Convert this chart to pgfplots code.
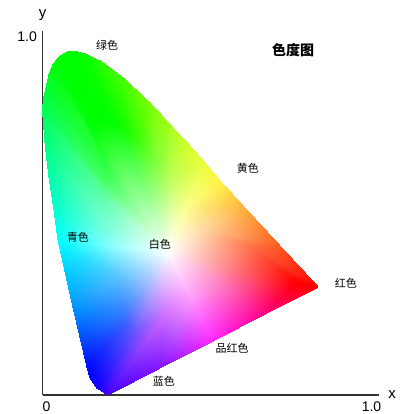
\documentclass[border=0pt]{standalone}
\usepackage{fontspec}
\usepackage{pgfplots}
\pgfplotsset{compat=1.18}
\setmainfont{Liberation Sans}
\newfontfamily\cjk{Noto Sans CJK SC}

\begin{document}
\begin{tikzpicture}[x=1pt,y=1pt]
\useasboundingbox (0,0) rectangle (405,414);
\begin{axis}[
  at={(42.5pt,19pt)},
  anchor=south west,
  scale only axis,
  width=336.5pt,
  height=364pt,
  xmin=0, xmax=1.0354,
  ymin=0, ymax=1.0139,
  axis x line=bottom,
  axis y line=left,
  axis line style={-, draw=black!80, line width=1.3pt},
  clip=false,
  xtick={0,1},
  xticklabels={0,1.0},
  ytick={1},
  yticklabels={1.0},
  tick style={draw=none},
  /pgf/number format/assume math mode=true,
  tick label style={font=\fontsize{14}{14}\selectfont},
  x tick label style={inner sep=0pt,xshift=4pt,yshift=-4pt},
  y tick label style={yshift=-1pt},
  xlabel={x},
  ylabel={y},
  every axis x label/.style={at={(axis cs:1.0754,0)},anchor=center,font=\fontsize{15}{15}\selectfont},
  every axis y label/.style={at={(axis cs:0,1.0585)},anchor=center,font=\fontsize{15}{15}\selectfont},
]
% triangles: white point 0, boundary 1-25, inner ring 26-50, extra boundary points 51-59
\addplot[patch, shader=interp, mesh/color input=explicit, table/row sep=\\, patch table={
0 26 27\\ 26 1 2\\ 26 2 27\\
0 27 28\\ 27 2 3\\ 27 3 28\\
0 28 29\\ 28 3 4\\ 28 4 29\\
0 29 30\\ 29 4 5\\ 29 5 30\\
0 30 31\\ 30 5 6\\ 30 6 31\\
0 31 32\\ 31 6 7\\ 31 7 32\\
0 32 33\\ 32 7 51\\ 32 51 8\\ 32 8 33\\
0 33 34\\ 33 8 9\\ 33 9 34\\
0 34 35\\ 34 9 52\\ 34 52 10\\ 34 10 35\\
0 35 36\\ 35 10 53\\ 35 53 11\\ 35 11 36\\
0 36 37\\ 36 11 12\\ 36 12 37\\
0 37 38\\ 37 12 13\\ 37 13 38\\
0 38 39\\ 38 13 54\\ 38 54 14\\ 38 14 39\\
0 39 40\\ 39 14 15\\ 39 15 40\\
0 40 41\\ 40 15 55\\ 40 55 16\\ 40 16 41\\
0 41 42\\ 41 16 56\\ 41 56 17\\ 41 17 42\\
0 42 43\\ 42 17 57\\ 42 57 18\\ 42 18 43\\
0 43 44\\ 43 18 58\\ 43 58 19\\ 43 19 44\\
0 44 45\\ 44 19 59\\ 44 59 20\\ 44 20 45\\
0 45 46\\ 45 20 21\\ 45 21 46\\
0 46 47\\ 46 21 22\\ 46 22 47\\
0 47 48\\ 47 22 23\\ 47 23 48\\
0 48 49\\ 48 23 24\\ 48 24 49\\
0 49 50\\ 49 24 25\\ 49 25 50\\
0 50 26\\ 50 25 1\\ 50 1 26\\
}]
  table[x=x, y=y, meta=c] {
x y c\\
0.3862 0.3983 rgb255=255,255,255\\
0.2015 0.0000 rgb255=70,0,255\\
0.1677 0.0195 rgb255=20,0,255\\
0.1462 0.0474 rgb255=0,0,255\\
0.1369 0.0780 rgb255=0,10,255\\
0.0938 0.2451 rgb255=0,150,255\\
0.0477 0.4318 rgb255=0,255,255\\
0.0354 0.5153 rgb255=0,255,210\\
0.0077 0.7019 rgb255=0,255,130\\
0.0000 0.7939 rgb255=0,255,90\\
0.0108 0.8552 rgb255=0,255,50\\
0.0323 0.9192 rgb255=0,255,10\\
0.0508 0.9415 rgb255=0,255,0\\
0.0754 0.9554 rgb255=0,255,0\\
0.1308 0.9499 rgb255=10,255,0\\
0.1769 0.9304 rgb255=40,255,0\\
0.2477 0.8830 rgb255=70,255,0\\
0.3308 0.8134 rgb255=120,255,0\\
0.4015 0.7437 rgb255=170,255,30\\
0.5000 0.6462 rgb255=235,255,60\\
0.6169 0.5265 rgb255=255,180,60\\
0.7308 0.4150 rgb255=255,90,30\\
0.8477 0.3008 rgb255=255,0,0\\
0.6846 0.2256 rgb255=255,0,130\\
0.5246 0.1504 rgb255=255,40,255\\
0.3615 0.0752 rgb255=130,20,255\\
0.2846 0.1783 rgb255=105,85,255\\
0.2662 0.1894 rgb255=80,90,255\\
0.2538 0.2061 rgb255=60,100,255\\
0.2492 0.2228 rgb255=50,120,255\\
0.2400 0.3217 rgb255=90,190,255\\
0.2169 0.4150 rgb255=140,255,255\\
0.2108 0.4568 rgb255=130,255,225\\
0.1969 0.5501 rgb255=100,255,170\\
0.1923 0.5961 rgb255=70,255,100\\
0.1985 0.6267 rgb255=50,255,70\\
0.1554 0.7382 rgb255=0,255,10\\
0.1677 0.7521 rgb255=0,255,0\\
0.1831 0.7604 rgb255=0,255,0\\
0.2200 0.7577 rgb255=0,255,0\\
0.2508 0.7437 rgb255=15,255,0\\
0.2969 0.7131 rgb255=60,255,10\\
0.3523 0.6462 rgb255=130,255,60\\
0.3954 0.6045 rgb255=190,255,90\\
0.4431 0.5223 rgb255=250,255,140\\
0.5015 0.4624 rgb255=255,215,160\\
0.6446 0.4109 rgb255=255,110,70\\
0.7785 0.3148 rgb255=255,0,0\\
0.5646 0.2953 rgb255=255,110,190\\
0.4554 0.2744 rgb255=255,160,255\\
0.3726 0.2201 rgb255=205,110,255\\
0.0200 0.6072 rgb255=0,255,170\\
0.0031 0.8273 rgb255=0,255,70\\
0.0200 0.8914 rgb255=0,255,30\\
0.1000 0.9568 rgb255=0,255,0\\
0.2108 0.9081 rgb255=55,255,0\\
0.2877 0.8496 rgb255=95,255,0\\
0.3662 0.7786 rgb255=145,255,10\\
0.4508 0.6964 rgb255=210,255,40\\
0.5523 0.5905 rgb255=255,240,70\\
};
\node[font=\cjk\fontsize{11}{11}\selectfont] at (axis cs:0.1985,0.9749) {绿色};
\node[font=\cjk\bfseries\fontsize{14}{14}\selectfont] at (axis cs:0.7708,0.9610) {色度图};
\node[font=\cjk\fontsize{11}{11}\selectfont] at (axis cs:0.6323,0.6323) {黄色};
\node[font=\cjk\fontsize{11}{11}\selectfont] at (axis cs:0.1092,0.4401) {青色};
\node[font=\cjk\fontsize{11}{11}\selectfont] at (axis cs:0.3615,0.4206) {白色};
\node[font=\cjk\fontsize{11}{11}\selectfont] at (axis cs:0.9338,0.3120) {红色};
\node[font=\cjk\fontsize{11}{11}\selectfont] at (axis cs:0.5831,0.1309) {品红色};
\node[font=\cjk\fontsize{11}{11}\selectfont] at (axis cs:0.3738,0.0390) {蓝色};
\end{axis}
\end{tikzpicture}
\end{document}
